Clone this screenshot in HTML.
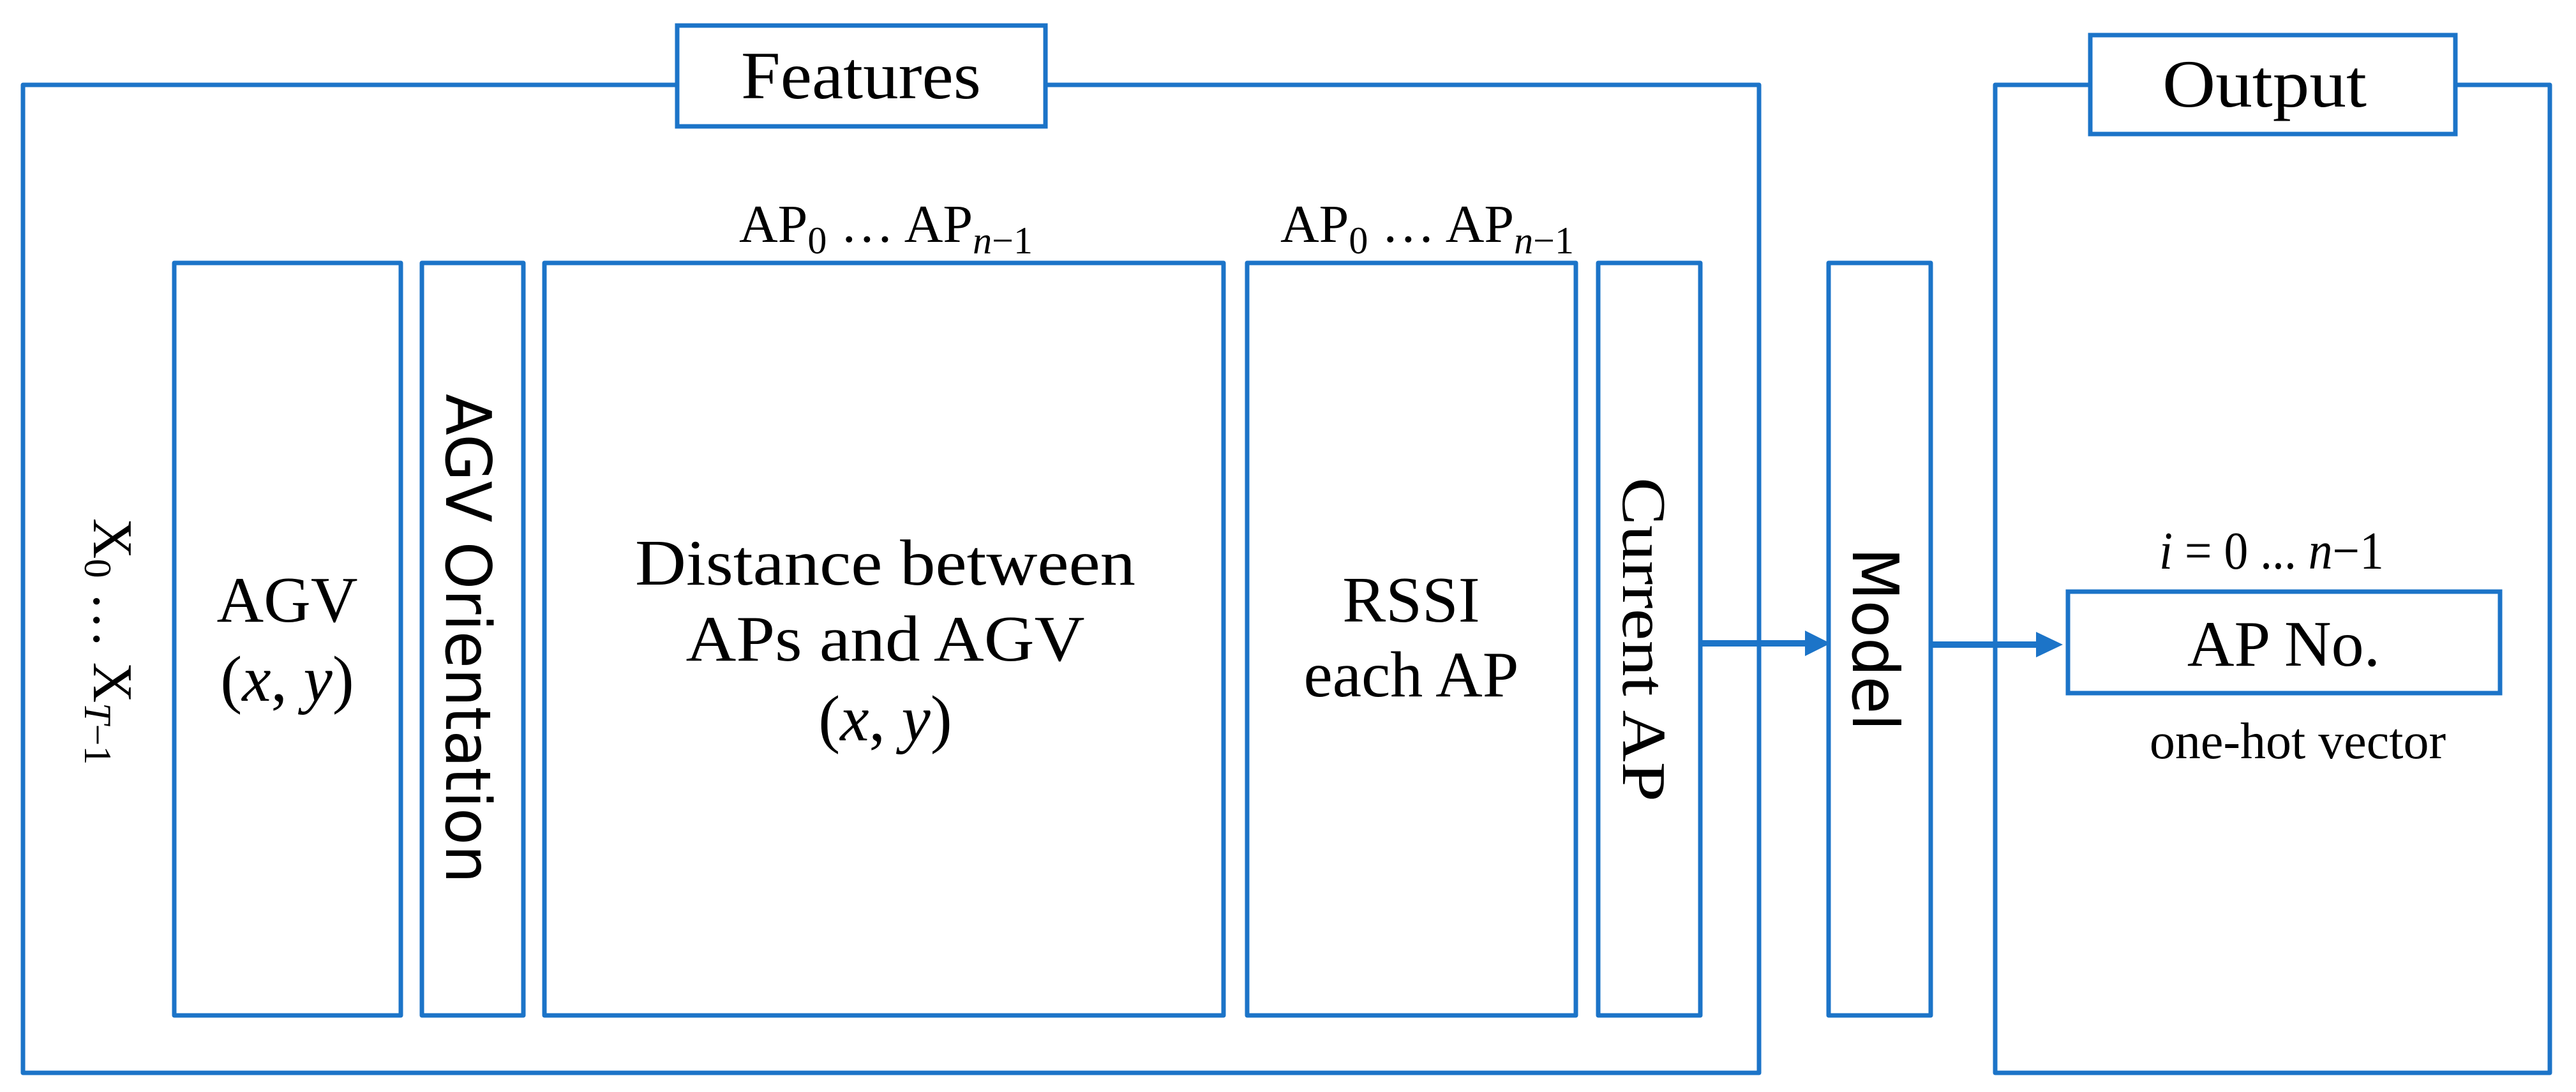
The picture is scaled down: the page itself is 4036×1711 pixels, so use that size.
<!DOCTYPE html>
<html><head><meta charset="utf-8"><style>html,body{margin:0;padding:0;background:#fff}svg{display:block}</style></head>
<body>
<svg xmlns="http://www.w3.org/2000/svg" width="4036" height="1711" viewBox="0 0 4036 1711">
<rect width="4036" height="1711" fill="#fff"/>
<g fill="none" stroke="#1c74c8" stroke-width="7" stroke-linejoin="round">
  <rect x="36" y="133" width="2720" height="1548"/>
  <rect x="3126" y="133" width="869" height="1548"/>
  <rect x="273" y="412" width="355" height="1179"/>
  <rect x="661" y="412" width="159" height="1179"/>
  <rect x="853" y="412" width="1064" height="1179"/>
  <rect x="1954" y="412" width="515" height="1179"/>
  <rect x="2504" y="412" width="160" height="1179"/>
  <rect x="2865" y="412" width="160" height="1179"/>
  <line x1="2664" y1="1008" x2="2835" y2="1008" stroke-width="10"/>
  <line x1="3025" y1="1010" x2="3197" y2="1010" stroke-width="10"/>
</g>
<rect x="1061" y="40" width="577" height="158" fill="#fff" stroke="#1c74c8" stroke-width="7"/>
<rect x="3275" y="55" width="572" height="155" fill="#fff" stroke="#1c74c8" stroke-width="7"/>
<rect x="3240" y="927" width="677" height="159" fill="#fff" stroke="#1c74c8" stroke-width="7"/>
<polygon points="2828,988 2868,1008 2828,1028" fill="#1c74c8"/>
<polygon points="3190,990 3232,1010 3190,1030" fill="#1c74c8"/>
<g font-family="Liberation Serif, serif" fill="#000">
  <text x="1161" y="154" font-size="106" textLength="376" lengthAdjust="spacingAndGlyphs">Features</text>
  <text x="3388" y="167" font-size="106" textLength="320" lengthAdjust="spacingAndGlyphs">Output</text>
  <text x="1158" y="379" font-size="84">AP<tspan font-size="60" dy="18">0</tspan><tspan dy="-18"> … AP</tspan><tspan font-size="60" dy="18" font-style="italic">n</tspan><tspan font-size="60">−1</tspan></text>
  <text x="2006" y="379" font-size="84">AP<tspan font-size="60" dy="18">0</tspan><tspan dy="-18"> … AP</tspan><tspan font-size="60" dy="18" font-style="italic">n</tspan><tspan font-size="60">−1</tspan></text>
  <text x="450" y="974" font-size="102" text-anchor="middle">AGV</text>
  <text x="450" y="1098" font-size="102" text-anchor="middle">(<tspan font-style="italic">x</tspan>, <tspan font-style="italic">y</tspan>)</text>
  <text x="1387" y="916" font-size="102" text-anchor="middle" textLength="784" lengthAdjust="spacingAndGlyphs">Distance between</text>
  <text x="1387" y="1035" font-size="102" text-anchor="middle" textLength="625" lengthAdjust="spacingAndGlyphs">APs and AGV</text>
  <text x="1387" y="1160" font-size="102" text-anchor="middle">(<tspan font-style="italic">x</tspan>, <tspan font-style="italic">y</tspan>)</text>
  <text x="2211" y="974" font-size="102" text-anchor="middle">RSSI</text>
  <text x="2211" y="1091" font-size="102" text-anchor="middle">each AP</text>
  <text x="3383" y="891" font-size="84" textLength="352" lengthAdjust="spacingAndGlyphs"><tspan font-style="italic">i</tspan> = 0 ... <tspan font-style="italic">n</tspan>−1</text>
  <text x="3578" y="1043" font-size="102" text-anchor="middle">AP No.</text>
  <text x="3600" y="1188" font-size="80" text-anchor="middle">one-hot vector</text>
  <g transform="translate(147,812) rotate(90)"><text x="0" y="0" font-size="88">X<tspan font-size="60" dy="14">0</tspan><tspan dy="-14"> … X</tspan><tspan font-size="60" dy="14" font-style="italic">T</tspan><tspan font-size="60">−1</tspan></text></g>
  <g transform="translate(2543,748) rotate(90)"><text x="0" y="0" font-size="98" textLength="508" lengthAdjust="spacingAndGlyphs">Current AP</text></g>
</g>
<g font-family="DejaVu Sans, sans-serif" fill="#000">
  <g transform="translate(699,617) rotate(90)"><text x="0" y="0" font-size="98" textLength="767" lengthAdjust="spacingAndGlyphs">AGV Orientation</text></g>
  <g transform="translate(2903,858) rotate(90)"><text x="0" y="0" font-size="100" textLength="287" lengthAdjust="spacingAndGlyphs">Model</text></g>
</g>
</svg>
</body></html>
